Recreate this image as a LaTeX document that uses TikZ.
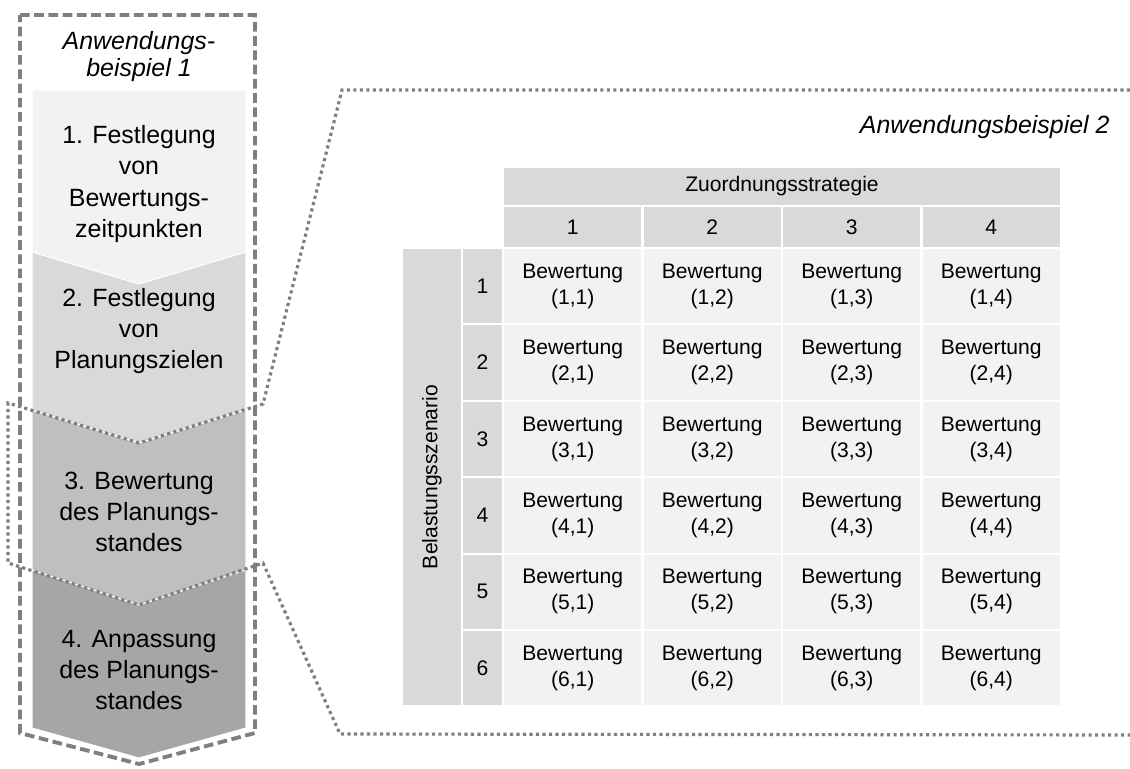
\documentclass[tikz,border=0pt]{standalone}
\usepackage{fontspec}
\setmainfont{Liberation Sans}
\usepackage{xcolor}
\definecolor{step-one}{HTML}{F2F2F2}
\definecolor{step-two}{HTML}{D9D9D9}
\definecolor{step-three}{HTML}{BFBFBF}
\definecolor{step-four}{HTML}{A6A6A6}
\definecolor{frame-gray}{HTML}{7F7F7F}
\definecolor{cell-light}{HTML}{F2F2F2}
\definecolor{cell-dark}{HTML}{D9D9D9}

\tikzset{
  steptext/.style={align=center, inner sep=0pt, font=\fontsize{14.2}{17.8}\selectfont},
  stepshape/.style={draw=white, line width=0.6pt},
  cellbox/.style={fill=cell-light, inner sep=0pt, minimum width=2.75cm,
                  minimum height=1.488cm, align=center, font=\fontsize{12}{14.8}\selectfont},
  headbox/.style={fill=cell-dark, inner sep=0pt, align=center,
                  font=\fontsize{12}{14.8}\selectfont},
  dashframe/.style={draw=frame-gray, line width=2.2pt, dash pattern=on 5.5pt off 2.6pt},
  dotframe/.style={draw=frame-gray, line width=1.8pt, dash pattern=on 1.8pt off 1.9pt},
}

\begin{document}
\begin{tikzpicture}[x=0.02cm, y=-0.02cm]
    % Coordinates in px, origin top left, y pointing down
    %   chevrons x=32..246, tips at x=139
    %   matrix cells 137.5 x 74.4, pitch 139.5 x 76.4
    \useasboundingbox (0,0) rectangle (1130,768);

    % process steps, bottom one first so each tip lies over the next step
    \filldraw[stepshape, fill=step-four]  (32,570) -- (246,570) -- (246,728) -- (139,758) -- (32,728) -- cycle;
    \filldraw[stepshape, fill=step-three] (32,410) -- (246,410) -- (246,570) -- (139,605) -- (32,570) -- cycle;
    \filldraw[stepshape, fill=step-two]   (32,252) -- (246,252) -- (246,410) -- (139,443) -- (32,410) -- cycle;
    \filldraw[stepshape, fill=step-one]   (32,90) -- (246,90) -- (246,252) -- (139,284) -- (32,252) -- cycle;

    \node[steptext, font=\fontsize{14.2}{15.4}\selectfont\itshape] (bsp1) at (139,57)
          {Anwendungs-\\beispiel 1};
    \node[steptext] (s1) at (139,184) {1. Festlegung\\von\\Bewertungs-\\zeitpunkten};
    \node[steptext] (s2) at (139,331) {2. Festlegung\\von\\Planungszielen};
    \node[steptext] (s3) at (139,512) {3. Bewertung\\des Planungs-\\standes};
    \node[steptext] (s4) at (139,670) {4. Anpassung\\des Planungs-\\standes};

    % zoom outline from steps 2/3 out to the matrix
    \draw[dotframe] (1130,90) -- (342,90) -- (263,404) -- (139,443) -- (8,403)
        -- (8,563) -- (139,605) -- (263,563) -- (340,734) -- (1130,735);
    \draw[dashframe] (20,15) -- (255,15) -- (255,733) -- (139,764) -- (20,733) -- cycle;

    \node[anchor=east, inner sep=0pt, font=\fontsize{14.2}{17}\selectfont\itshape] (bsp2)
          at (1110,127) {Anwendungsbeispiel 2};

    % evaluation matrix
    \node[headbox, minimum width=11.12cm, minimum height=0.74cm] (strategie) at (782,186.5)
          {Zuordnungsstrategie};
    \node[headbox, rotate=90, minimum width=9.12cm, minimum height=1.16cm] (szenario) at (432,477)
          {Belastungsszenario};
    \foreach \c in {1,...,4} {
      \node[headbox, minimum width=2.75cm, minimum height=0.8cm] (col-\c)
            at ({572.75+(\c-1)*139.5},227) {\c};
    }
    \foreach \r in {1,...,6} {
      \node[headbox, minimum width=0.78cm, minimum height=1.488cm] (row-\r)
            at (482.5,{286.2+(\r-1)*76.4}) {\r};
      \foreach \c in {1,...,4}
        \node[cellbox] (cell-\r-\c) at ({572.75+(\c-1)*139.5},{286.2+(\r-1)*76.4})
              {Bewertung\\(\r,\c)};
    }
\end{tikzpicture}
\end{document}
